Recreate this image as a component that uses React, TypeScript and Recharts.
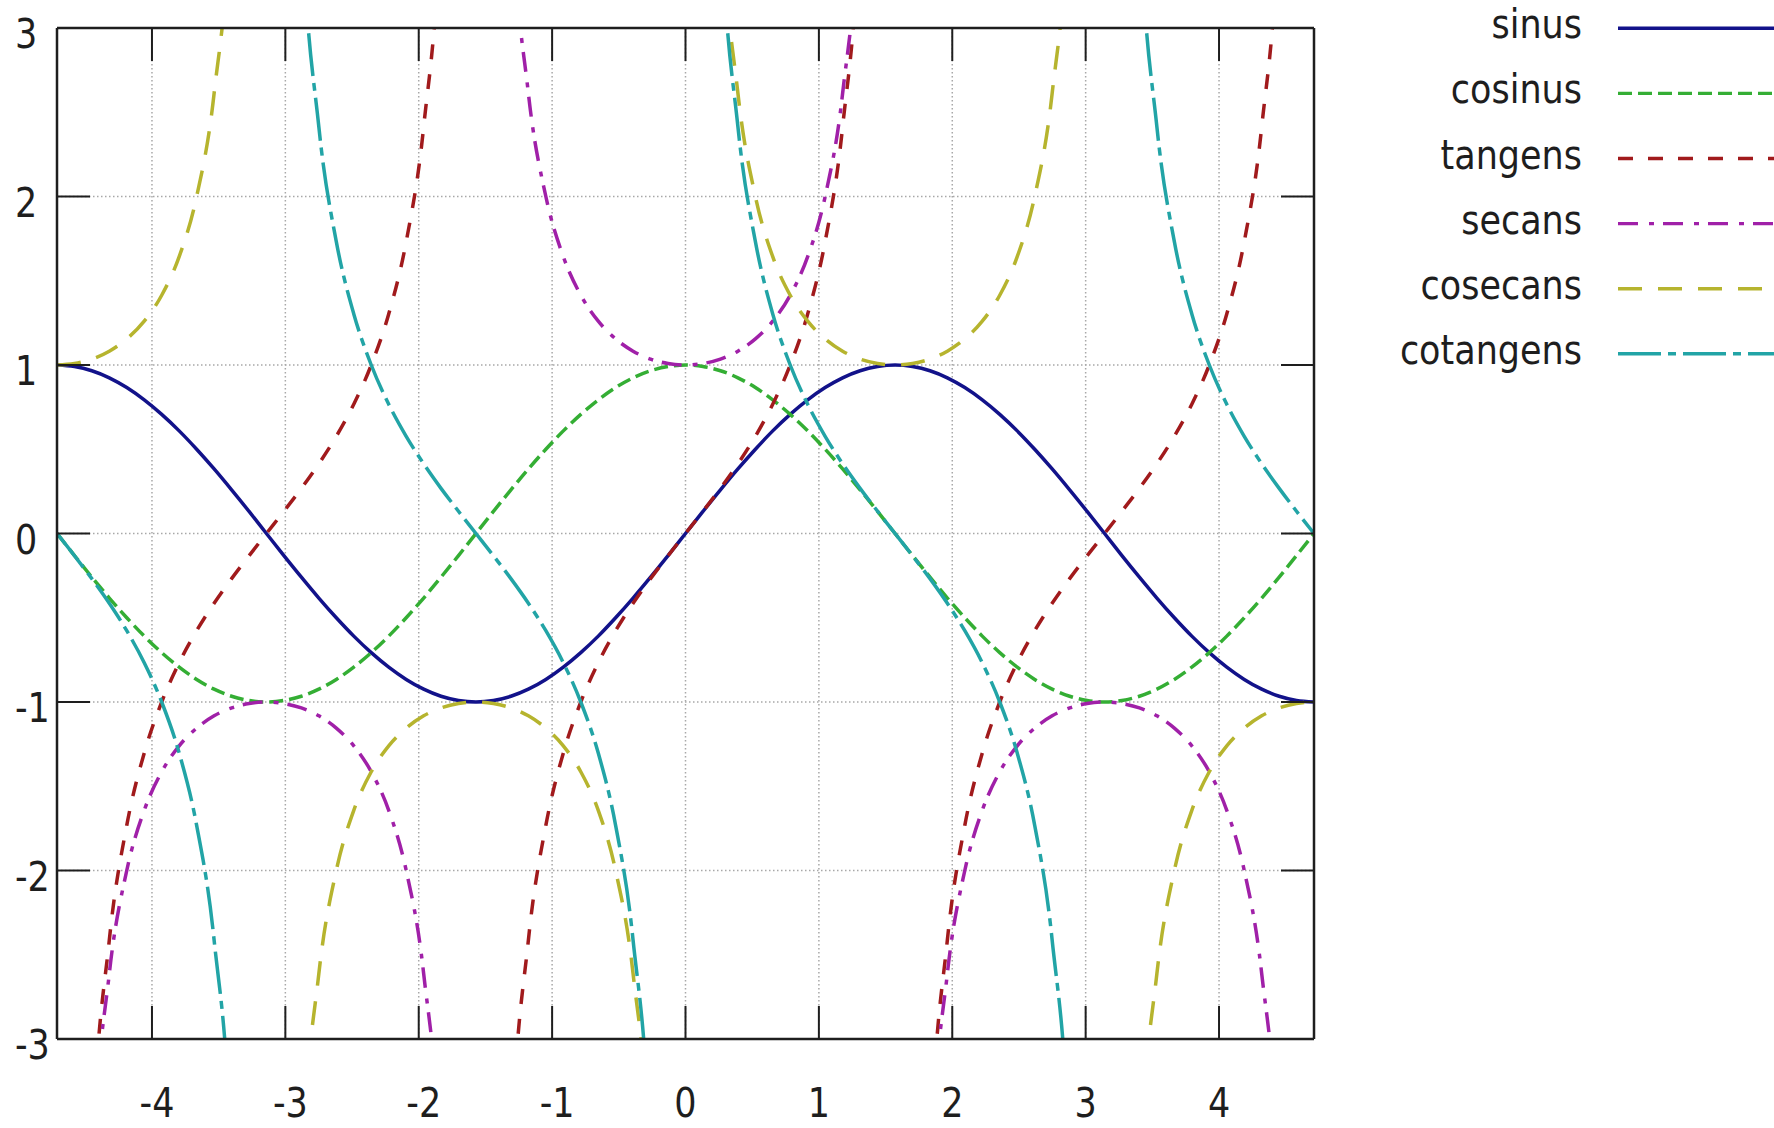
import { CartesianGrid, Legend, Line, LineChart, XAxis, YAxis } from "recharts";

// x samples, step pi/24 over [-3pi/2, 3pi/2]
const X = [
  -4.712, -4.581, -4.451, -4.32, -4.189, -4.058, -3.927, -3.796, -3.665, -3.534, -3.403, -3.272, -3.142,
  -3.011, -2.88, -2.749, -2.618, -2.487, -2.356, -2.225, -2.094, -1.963, -1.833, -1.702, -1.571,
  -1.44, -1.309, -1.178, -1.047, -0.916, -0.785, -0.654, -0.524, -0.393, -0.262, -0.131, 0,
  0.131, 0.262, 0.393, 0.524, 0.654, 0.785, 0.916, 1.047, 1.178, 1.309, 1.44, 1.571,
  1.702, 1.833, 1.963, 2.094, 2.225, 2.356, 2.487, 2.618, 2.749, 2.88, 3.011, 3.142,
  3.272, 3.403, 3.534, 3.665, 3.796, 3.927, 4.058, 4.189, 4.32, 4.451, 4.581, 4.712,
];

const SINUS = [
  1, 0.991, 0.966, 0.924, 0.866, 0.793, 0.707, 0.609, 0.5, 0.383, 0.259, 0.131, 0,
  -0.131, -0.259, -0.383, -0.5, -0.609, -0.707, -0.793, -0.866, -0.924, -0.966, -0.991, -1,
  -0.991, -0.966, -0.924, -0.866, -0.793, -0.707, -0.609, -0.5, -0.383, -0.259, -0.131, 0,
  0.131, 0.259, 0.383, 0.5, 0.609, 0.707, 0.793, 0.866, 0.924, 0.966, 0.991, 1,
  0.991, 0.966, 0.924, 0.866, 0.793, 0.707, 0.609, 0.5, 0.383, 0.259, 0.131, 0,
  -0.131, -0.259, -0.383, -0.5, -0.609, -0.707, -0.793, -0.866, -0.924, -0.966, -0.991, -1,
];

const COSINUS = [
  0, -0.131, -0.259, -0.383, -0.5, -0.609, -0.707, -0.793, -0.866, -0.924, -0.966, -0.991, -1,
  -0.991, -0.966, -0.924, -0.866, -0.793, -0.707, -0.609, -0.5, -0.383, -0.259, -0.131, 0,
  0.131, 0.259, 0.383, 0.5, 0.609, 0.707, 0.793, 0.866, 0.924, 0.966, 0.991, 1,
  0.991, 0.966, 0.924, 0.866, 0.793, 0.707, 0.609, 0.5, 0.383, 0.259, 0.131, 0,
  -0.131, -0.259, -0.383, -0.5, -0.609, -0.707, -0.793, -0.866, -0.924, -0.966, -0.991, -1,
  -0.991, -0.966, -0.924, -0.866, -0.793, -0.707, -0.609, -0.5, -0.383, -0.259, -0.131, 0,
];

const TANGENS = [
  null, -7.596, -3.732, -2.414, -1.732, -1.303, -1, -0.767, -0.577, -0.414, -0.268, -0.132, 0,
  0.132, 0.268, 0.414, 0.577, 0.767, 1, 1.303, 1.732, 2.414, 3.732, 7.596, null,
  -7.596, -3.732, -2.414, -1.732, -1.303, -1, -0.767, -0.577, -0.414, -0.268, -0.132, 0,
  0.132, 0.268, 0.414, 0.577, 0.767, 1, 1.303, 1.732, 2.414, 3.732, 7.596, null,
  -7.596, -3.732, -2.414, -1.732, -1.303, -1, -0.767, -0.577, -0.414, -0.268, -0.132, 0,
  0.132, 0.268, 0.414, 0.577, 0.767, 1, 1.303, 1.732, 2.414, 3.732, 7.596, null,
];

const SECANS = [
  null, -7.661, -3.864, -2.613, -2, -1.643, -1.414, -1.26, -1.155, -1.082, -1.035, -1.009, -1,
  -1.009, -1.035, -1.082, -1.155, -1.26, -1.414, -1.643, -2, -2.613, -3.864, -7.661, null,
  7.661, 3.864, 2.613, 2, 1.643, 1.414, 1.26, 1.155, 1.082, 1.035, 1.009, 1,
  1.009, 1.035, 1.082, 1.155, 1.26, 1.414, 1.643, 2, 2.613, 3.864, 7.661, null,
  -7.661, -3.864, -2.613, -2, -1.643, -1.414, -1.26, -1.155, -1.082, -1.035, -1.009, -1,
  -1.009, -1.035, -1.082, -1.155, -1.26, -1.414, -1.643, -2, -2.613, -3.864, -7.661, null,
];

const COSECANS = [
  1, 1.009, 1.035, 1.082, 1.155, 1.26, 1.414, 1.643, 2, 2.613, 3.864, 7.661, null,
  -7.661, -3.864, -2.613, -2, -1.643, -1.414, -1.26, -1.155, -1.082, -1.035, -1.009, -1,
  -1.009, -1.035, -1.082, -1.155, -1.26, -1.414, -1.643, -2, -2.613, -3.864, -7.661, null,
  7.661, 3.864, 2.613, 2, 1.643, 1.414, 1.26, 1.155, 1.082, 1.035, 1.009, 1,
  1.009, 1.035, 1.082, 1.155, 1.26, 1.414, 1.643, 2, 2.613, 3.864, 7.661, null,
  -7.661, -3.864, -2.613, -2, -1.643, -1.414, -1.26, -1.155, -1.082, -1.035, -1.009, -1,
];

const COTANGENS = [
  0, -0.132, -0.268, -0.414, -0.577, -0.767, -1, -1.303, -1.732, -2.414, -3.732, -7.596, null,
  7.596, 3.732, 2.414, 1.732, 1.303, 1, 0.767, 0.577, 0.414, 0.268, 0.132, 0,
  -0.132, -0.268, -0.414, -0.577, -0.767, -1, -1.303, -1.732, -2.414, -3.732, -7.596, null,
  7.596, 3.732, 2.414, 1.732, 1.303, 1, 0.767, 0.577, 0.414, 0.268, 0.132, 0,
  -0.132, -0.268, -0.414, -0.577, -0.767, -1, -1.303, -1.732, -2.414, -3.732, -7.596, null,
  7.596, 3.732, 2.414, 1.732, 1.303, 1, 0.767, 0.577, 0.414, 0.268, 0.132, 0,
];

const X_TICKS = [-4, -3, -2, -1, 0, 1, 2, 3, 4];
const Y_TICKS = [-3, -2, -1, 0, 1, 2, 3];

const SERIES = [
  { key: "sinus", values: SINUS, color: "#12128a", dash: undefined },
  { key: "cosinus", values: COSINUS, color: "#34ae34", dash: "14 6" },
  { key: "tangens", values: TANGENS, color: "#a11a1c", dash: "15 15" },
  { key: "secans", values: SECANS, color: "#a020a8", dash: "20 11 5 9" },
  { key: "cosecans", values: COSECANS, color: "#b6b42e", dash: "24 16" },
  { key: "cotangens", values: COTANGENS, color: "#22a4a6", dash: "43 7 8 7" },
];

const rows = X.map((x, i) => {
  const r: Record<string, number | null> = { x };
  SERIES.forEach((s) => (r[s.key] = s.values[i]));
  return r;
});

const INK = "#1e1e1e";
const FONT = "'DejaVu Sans', sans-serif";
const TICK_LEN = 33;

function Label({ x, y, anchor, children }: any) {
  return (
    <text
      transform={`translate(${x},${y}) scale(1,1.15)`}
      textAnchor={anchor}
      fontFamily={FONT}
      fontSize={35}
      fill={INK}
    >
      {children}
    </text>
  );
}

function BottomTick({ x, y, payload }: any) {
  const v = payload.value;
  return (
    <g>
      <line x1={x} y1={y} x2={x} y2={y - TICK_LEN} stroke={INK} strokeWidth={2} />
      <Label x={x + (v < 0 ? 5 : 0)} y={y + 78} anchor="middle">{String(v)}</Label>
    </g>
  );
}

function TopTick({ x, y }: any) {
  return <line x1={x} y1={y} x2={x} y2={y + TICK_LEN} stroke={INK} strokeWidth={2} />;
}

function LeftTick({ x, y, payload }: any) {
  return (
    <g>
      <line x1={x} y1={y} x2={x + TICK_LEN} y2={y} stroke={INK} strokeWidth={2} />
      <Label x={15} y={y + 20} anchor="start">{String(payload.value)}</Label>
    </g>
  );
}

function RightTick({ x, y }: any) {
  return <line x1={x} y1={y} x2={x - TICK_LEN} y2={y} stroke={INK} strokeWidth={2} />;
}

function KeyBox() {
  return (
    <svg width={460} height={400} style={{ display: "block" }}>
      {SERIES.map((s, i) => {
        const cy = 28.3 + i * 65.1;
        return (
          <g key={s.key}>
            <Label x={268} y={cy + 10} anchor="end">{s.key}</Label>
            <line x1={304} x2={470} y1={cy} y2={cy} stroke={s.color} strokeWidth={3.4} strokeDasharray={s.dash} />
          </g>
        );
      })}
    </svg>
  );
}

export default function App() {
  const xDomain = [X[0], X[X.length - 1]];
  const axisLine = { stroke: INK, strokeWidth: 2.5 };
  return (
    <div style={{ position: "absolute", left: 0, top: 0, width: 1774, height: 1128, background: "#fff" }}>
      <LineChart width={1774} height={1128} data={rows} margin={{ top: 27, right: 459, bottom: 0, left: 0 }}>
        <CartesianGrid stroke="#a8a8a8" strokeDasharray="1.5 2.5" strokeWidth={1.5} />
        <XAxis
          dataKey="x"
          type="number"
          domain={xDomain}
          ticks={X_TICKS}
          interval={0}
          allowDataOverflow
          height={89}
          tickSize={0}
          tickMargin={0}
          tickLine={false}
          axisLine={axisLine}
          tick={<BottomTick />}
        />
        <XAxis
          xAxisId="top"
          orientation="top"
          dataKey="x"
          type="number"
          domain={xDomain}
          ticks={X_TICKS}
          interval={0}
          allowDataOverflow
          height={1}
          tickSize={0}
          tickMargin={0}
          tickLine={false}
          axisLine={axisLine}
          tick={<TopTick />}
        />
        <YAxis
          type="number"
          domain={[-3, 3]}
          ticks={Y_TICKS}
          interval={0}
          allowDataOverflow
          width={57}
          tickSize={0}
          tickMargin={0}
          tickLine={false}
          axisLine={axisLine}
          tick={<LeftTick />}
        />
        <YAxis
          yAxisId="right"
          orientation="right"
          type="number"
          domain={[-3, 3]}
          ticks={Y_TICKS}
          interval={0}
          allowDataOverflow
          width={1}
          tickSize={0}
          tickMargin={0}
          tickLine={false}
          axisLine={axisLine}
          tick={<RightTick />}
        />
        {SERIES.map((s) => (
          <Line
            key={s.key}
            dataKey={s.key}
            name={s.key}
            type="monotone"
            stroke={s.color}
            strokeWidth={3.5}
            strokeDasharray={s.dash}
            dot={false}
            activeDot={false}
            connectNulls={false}
            isAnimationActive={false}
          />
        ))}
        <Legend
          content={<KeyBox />}
          layout="horizontal"
          verticalAlign="middle"
          align="center"
          wrapperStyle={{ left: 1314, top: 0, width: 460, height: 400 }}
        />
      </LineChart>
    </div>
  );
}
